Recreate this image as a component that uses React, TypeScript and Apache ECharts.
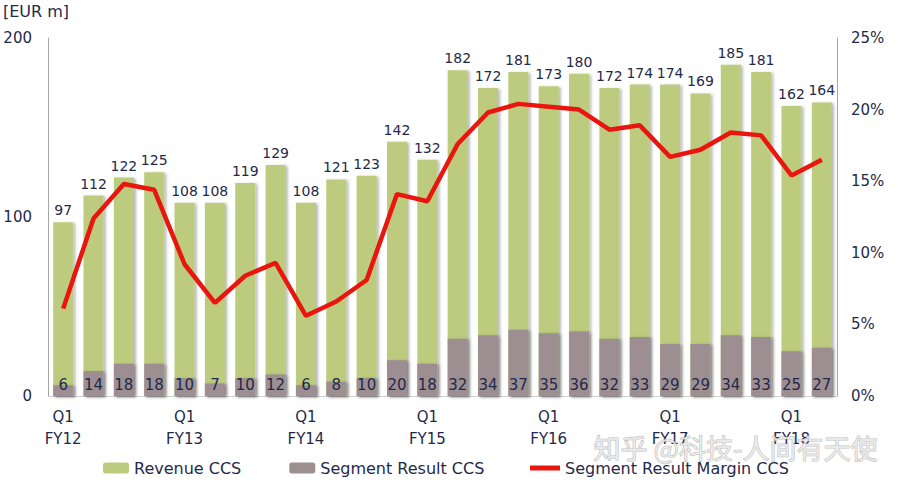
import * as echarts from 'echarts'
import { useEffect, useRef } from 'react'

// quarters Q1 FY12 .. Q2 FY18
const categories = [
  'Q1 FY12', 'Q2 FY12', 'Q3 FY12', 'Q4 FY12',
  'Q1 FY13', 'Q2 FY13', 'Q3 FY13', 'Q4 FY13',
  'Q1 FY14', 'Q2 FY14', 'Q3 FY14', 'Q4 FY14',
  'Q1 FY15', 'Q2 FY15', 'Q3 FY15', 'Q4 FY15',
  'Q1 FY16', 'Q2 FY16', 'Q3 FY16', 'Q4 FY16',
  'Q1 FY17', 'Q2 FY17', 'Q3 FY17', 'Q4 FY17',
  'Q1 FY18', 'Q2 FY18',
]
const revenue = [97, 112, 122, 125, 108, 108, 119, 129, 108, 121, 123, 142, 132, 182, 172, 181, 173, 180, 172, 174, 174, 169, 185, 181, 162, 164]
const segmentResult = [6, 14, 18, 18, 10, 7, 10, 12, 6, 8, 10, 20, 18, 32, 34, 37, 35, 36, 32, 33, 29, 29, 34, 33, 25, 27]
// margin in %
const margin = [6.1, 12.4, 14.8, 14.4, 9.2, 6.5, 8.4, 9.3, 5.6, 6.6, 8.1, 14.1, 13.6, 17.6, 19.8, 20.4, 20.2, 20.0, 18.6, 18.9, 16.7, 17.2, 18.4, 18.2, 15.4, 16.5]

const FONT = 'DejaVu Sans'
const TEXT = '#1f2a4a'
const RED = '#e8160f'

const App = () => {
  const chartRef = useRef<HTMLDivElement>(null)

  useEffect(() => {
    if (!chartRef.current) return
    const chart = echarts.init(chartRef.current, null, { renderer: 'svg' })

    const barShadow = {
      shadowColor: 'rgba(0,0,0,0.3)',
      shadowBlur: 3,
      shadowOffsetX: 2,
      shadowOffsetY: 1,
    }
    const legendText = { fontSize: 16, color: TEXT, fontFamily: FONT }

    chart.setOption({
      animation: false,
      textStyle: { fontFamily: FONT },
      grid: { left: 48, right: 60, top: 38, bottom: 89 },
      legend: [
        {
          left: 98,
          bottom: 4,
          itemWidth: 26,
          itemHeight: 11,
          itemGap: 48,
          textStyle: legendText,
          data: ['Revenue CCS', 'Segment Result CCS'],
        },
        {
          left: 525,
          bottom: 4,
          icon: 'rect',
          itemWidth: 30,
          itemHeight: 5,
          textStyle: legendText,
          data: ['Segment Result Margin CCS'],
        },
      ],
      graphic: [
        {
          type: 'text',
          left: 3,
          top: 3,
          style: { text: '[EUR m]', fontSize: 16, fontFamily: FONT, fill: TEXT },
        },
        {
          type: 'text',
          left: 593,
          top: 433,
          z: 100,
          style: {
            text: '知乎 @科技-人间有天使',
            fontSize: 27,
            fontFamily: 'Noto Sans CJK SC',
            fill: 'rgba(235,235,235,0.85)',
            stroke: 'rgba(140,140,140,0.6)',
            lineWidth: 1,
          },
        },
      ],
      xAxis: {
        type: 'category',
        data: categories,
        axisTick: { show: false },
        axisLine: { lineStyle: { color: '#d0d0d0', width: 1 } },
        axisLabel: {
          interval: 0,
          margin: 10,
          fontSize: 15,
          lineHeight: 22,
          color: TEXT,
          formatter: (v: string, i: number) => (i % 4 === 0 ? v.replace(' ', '\n') : ''),
        },
      },
      yAxis: [
        {
          type: 'value',
          min: 0,
          max: 200,
          interval: 100,
          splitLine: { show: false },
          axisLine: { show: true, lineStyle: { color: '#a6a6a6' } },
          axisLabel: { fontSize: 15, color: TEXT, margin: 16 },
        },
        {
          type: 'value',
          min: 0,
          max: 25,
          interval: 5,
          splitLine: { show: false },
          axisLine: { show: true, lineStyle: { color: '#a6a6a6' } },
          axisLabel: { fontSize: 15, color: TEXT, margin: 14, formatter: '{value}%' },
        },
      ],
      series: [
        {
          name: 'Revenue CCS',
          type: 'bar',
          data: revenue,
          barWidth: 20,
          barGap: '-100%',
          itemStyle: { color: '#bccb7d', ...barShadow },
          label: { show: true, position: 'top', distance: 5, fontSize: 14, color: TEXT },
        },
        {
          name: 'Segment Result CCS',
          type: 'bar',
          data: segmentResult,
          barWidth: 20,
          itemStyle: { color: '#9d8e92', ...barShadow },
          label: { show: true, position: 'insideBottom', distance: 4, fontSize: 15, color: TEXT },
        },
        {
          name: 'Segment Result Margin CCS',
          type: 'line',
          yAxisIndex: 1,
          data: margin,
          symbol: 'none',
          lineStyle: { color: RED, width: 4.5 },
          itemStyle: { color: RED },
          z: 5,
        },
      ],
    })

    return () => chart.dispose()
  }, [])

  return (
    <div
      ref={chartRef}
      style={{ position: 'fixed', left: 0, top: 0, width: 897, height: 485, background: '#fff' }}
    />
  )
}

export default App
